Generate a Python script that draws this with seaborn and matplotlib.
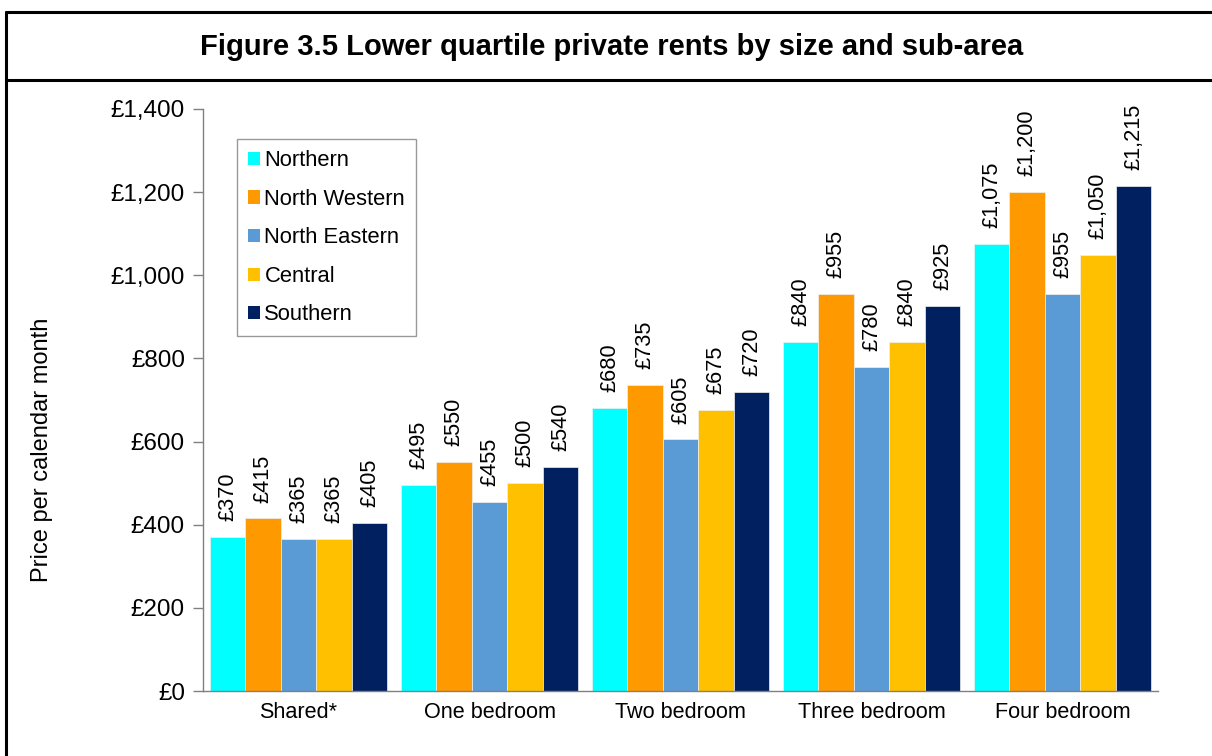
import pandas as pd
import matplotlib
matplotlib.use("Agg")
import matplotlib.pyplot as plt
from matplotlib.lines import Line2D
from matplotlib.ticker import FuncFormatter, FixedLocator
import seaborn as sns

# data
sizes = ["Shared*", "One bedroom", "Two bedroom", "Three bedroom", "Four bedroom"]
areas = ["Northern", "North Western", "North Eastern", "Central", "Southern"]
northern = [370, 495, 680, 840, 1075]
north_western = [415, 550, 735, 955, 1200]
north_eastern = [365, 455, 605, 780, 955]
central = [365, 500, 675, 840, 1050]
southern = [405, 540, 720, 925, 1215]
colours = ["#00FFFF", "#FF9900", "#5B9BD5", "#FFC000", "#002060"]

series = [northern, north_western, north_eastern, central, southern]
df = pd.DataFrame({
    "Size": [s for _ in areas for s in sizes],
    "Area": [a for a in areas for _ in sizes],
    "Rent": [v for vals in series for v in vals],
})

sns.set_theme(style="white")
plt.rcParams["font.family"] = ["Liberation Sans", "DejaVu Sans"]
plt.rcParams["text.color"] = "black"

fig = plt.figure(figsize=(12.12, 7.56), dpi=100)
ax = fig.add_axes([203 / 1212, 1 - 691 / 756, 955 / 1212, 582 / 756])

sns.barplot(data=df, x="Size", y="Rent", hue="Area", order=sizes, hue_order=areas,
            palette=colours, saturation=1, width=0.93, ax=ax,
            edgecolor="#f0f0f0", linewidth=0.5)

# value labels above each bar
for cont in ax.containers:
    vals = [b.get_height() for b in cont]
    ax.bar_label(cont, labels=[f"£{v:,.0f}" for v in vals], rotation=90,
                 padding=11.5, fontsize=15.7, color="black")

ax.set_ylim(0, 1400)
ax.set_xlim(-0.5, 4.5)
ax.yaxis.set_major_locator(FixedLocator(range(0, 1401, 200)))
ax.yaxis.set_major_formatter(FuncFormatter(lambda x, _: f"£{x:,.0f}"))
ax.set_xlabel("")
ax.set_ylabel("")

ax.xaxis.set_minor_locator(FixedLocator([i - 0.5 for i in range(6)]))
ax.tick_params(axis="x", which="major", length=0, labelsize=15.6, pad=8, labelcolor="black")
ax.tick_params(axis="x", which="minor", length=7, width=1, color="#808080", direction="out")
ax.tick_params(axis="y", length=7, width=1, color="#808080", labelsize=17.5, pad=6,
               labelcolor="black", left=True, direction="out")

for side in ["top", "right"]:
    ax.spines[side].set_visible(False)
for side in ["left", "bottom"]:
    ax.spines[side].set_color("#808080")
    ax.spines[side].set_linewidth(1)

leg = ax.legend(loc="upper left", bbox_to_anchor=(0.0356, 0.948), borderaxespad=0,
                fontsize=15.8, frameon=True, fancybox=False, edgecolor="#808080",
                handlelength=0.55, handleheight=0.55, handletextpad=0.2,
                labelspacing=0.8, borderpad=0.5, title=None)
leg.get_frame().set_linewidth(1)
for h in leg.legend_handles:
    h.set_edgecolor("none")
for t in leg.get_texts():
    t.set_color("black")

fig.text(42 / 1212, 1 - 450 / 756, "Price per calendar month", rotation=90,
         ha="center", va="center", fontsize=17, color="black")

fig.text(612 / 1212, 1 - 47 / 756,
         "Figure 3.5 Lower quartile private rents by size and sub-area",
         ha="center", va="center", fontsize=21, fontweight="bold", color="black")

# outer frame and title box
lw = 2.2
fig.add_artist(Line2D([6 / 1212, 6 / 1212], [1 - 12 / 756, 0], color="black", lw=lw,
                      transform=fig.transFigure))
fig.add_artist(Line2D([6 / 1212, 1], [1 - 12 / 756, 1 - 12 / 756], color="black", lw=lw,
                      transform=fig.transFigure))
fig.add_artist(Line2D([6 / 1212, 1], [1 - 80 / 756, 1 - 80 / 756], color="black", lw=lw,
                      transform=fig.transFigure))

fig.savefig("out.png", dpi=100, facecolor="white")
